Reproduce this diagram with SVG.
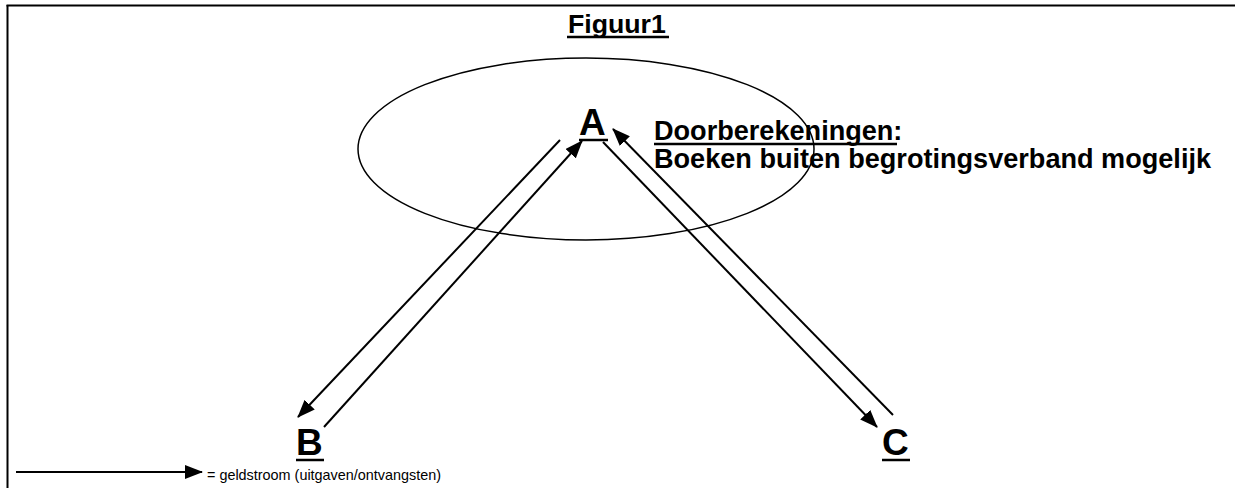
<svg xmlns="http://www.w3.org/2000/svg" width="1235" height="488" viewBox="0 0 1235 488">
<style>
.t{font-family:"Liberation Sans",Arial,sans-serif;fill:#000}
.b{font-weight:bold}
.ul{stroke:#000;stroke-width:2.5}
.c{stroke:#000;stroke-width:2;fill:none}
</style>
<defs>
<marker id="ah" markerUnits="userSpaceOnUse" markerWidth="18" markerHeight="14" viewBox="0 0 18 14" refX="17" refY="7" orient="auto">
<path d="M0,0 L18,7 L0,14 Z" fill="#000"/>
</marker>
</defs>
<rect width="1235" height="488" fill="#fff"/>
<g id="frame">
<line x1="6.5" y1="5.5" x2="1235" y2="5.5" stroke="#000" stroke-width="2"/>
<line x1="7.5" y1="5" x2="7.5" y2="488" stroke="#000" stroke-width="2"/>
</g>
<g id="title">
<text class="t b" x="568" y="33" font-size="26.7">Figuur1</text>
<line class="ul" x1="567" y1="37" x2="669" y2="37"/>
</g>
<g id="ellipse">
<ellipse cx="586" cy="149" rx="228" ry="91" fill="none" stroke="#000" stroke-width="1.5"/>
</g>
<g id="nodeA">
<text class="t b" x="579" y="135" font-size="37">A</text>
<line class="ul" x1="579" y1="140" x2="608" y2="140" stroke-width="3"/>
</g>
<g id="nodeB">
<text class="t b" x="296" y="455" font-size="37">B</text>
<line class="ul" x1="296" y1="460" x2="324" y2="460" stroke-width="3"/>
</g>
<g id="nodeC">
<text class="t b" x="882" y="455" font-size="37">C</text>
<line class="ul" x1="882" y1="460" x2="910" y2="460" stroke-width="3"/>
</g>
<g id="note">
<text class="t b" x="654" y="140" font-size="27.1">Doorberekeningen:</text>
<line class="ul" x1="654" y1="144" x2="897" y2="144" stroke-width="2"/>
<text class="t b" x="654" y="168" font-size="27.1">Boeken buiten begrotingsverband mogelijk</text>
</g>
<g id="connectors">
<line class="c" x1="560" y1="140" x2="298" y2="417" marker-end="url(#ah)"/>
<line class="c" x1="324" y1="427" x2="582" y2="141" marker-end="url(#ah)"/>
<line class="c" x1="603" y1="142" x2="877" y2="427" marker-end="url(#ah)"/>
<line class="c" x1="893" y1="415" x2="613" y2="129" marker-end="url(#ah)"/>
</g>
<g id="legend">
<line class="c" x1="16" y1="472" x2="202" y2="472" marker-end="url(#ah)"/>
<text class="t" x="207" y="480" font-size="14.4">= geldstroom (uitgaven/ontvangsten)</text>
</g>
</svg>
